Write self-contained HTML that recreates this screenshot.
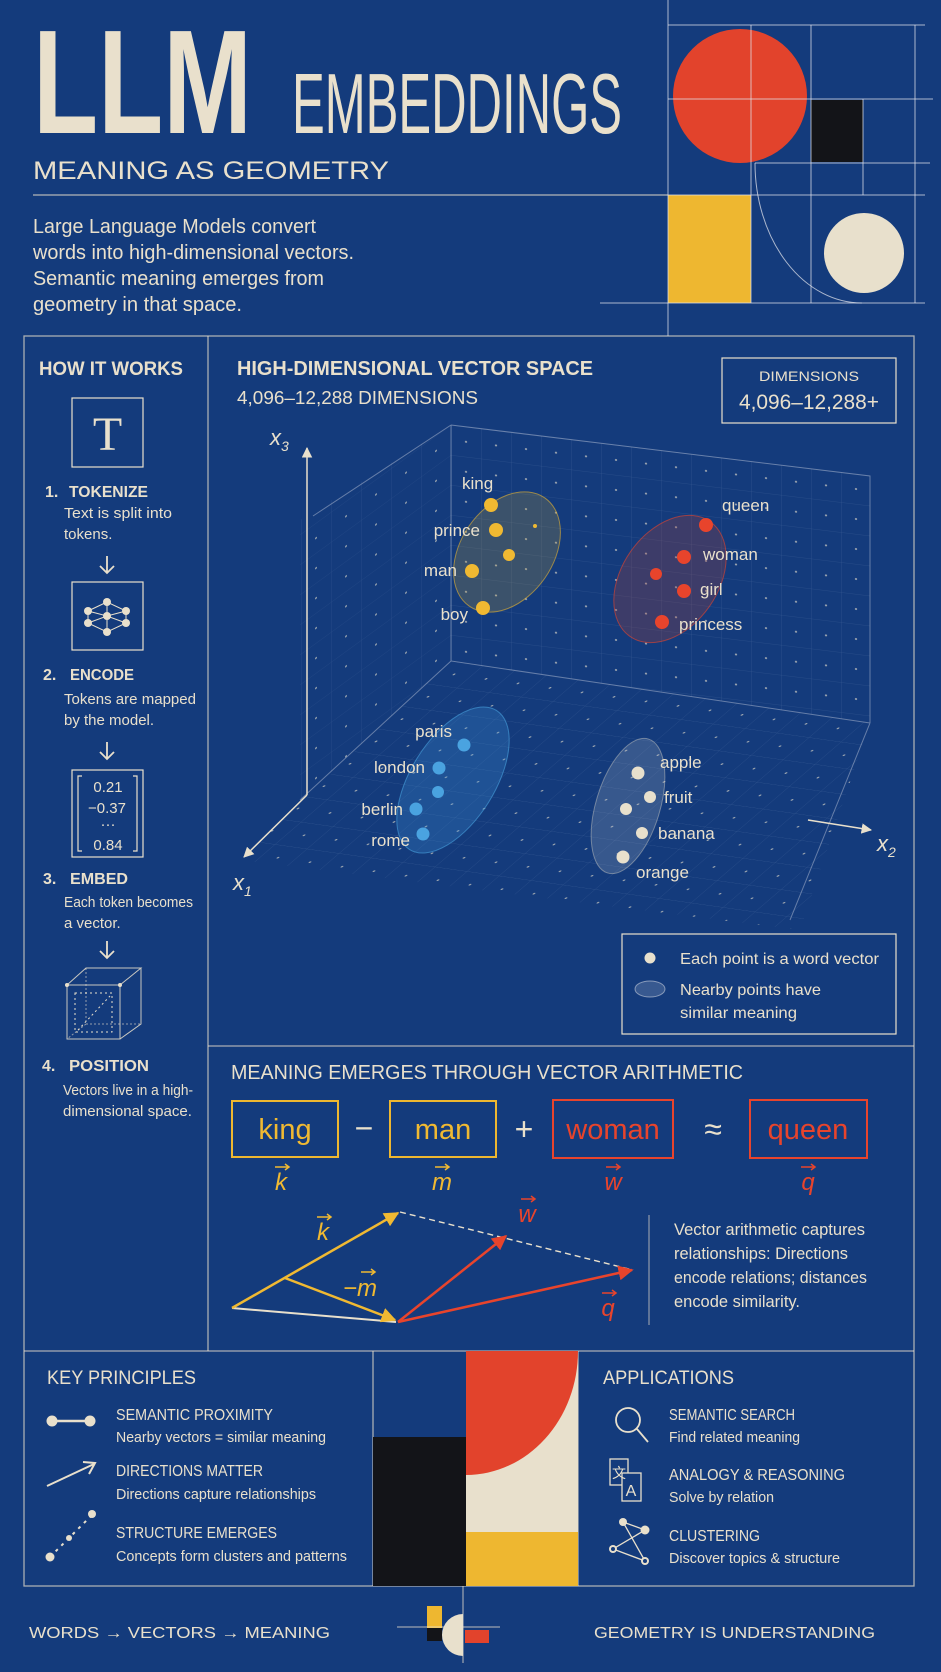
<!DOCTYPE html>
<html><head><meta charset="utf-8"><style>
html,body{margin:0;padding:0;background:#143b7c;}
svg{display:block;}
text{font-family:"Liberation Sans",sans-serif;fill:#e9e0cc;}
</style></head><body>
<svg width="941" height="1672" viewBox="0 0 941 1672" xmlns="http://www.w3.org/2000/svg">
<defs>
<pattern id="gw" width="30" height="30" patternUnits="userSpaceOnUse" patternTransform="translate(451,425) skewY(6.9)">
<path d="M0 0H30M0 0V30" stroke="#c9d6ee" stroke-width="0.6" fill="none" opacity="0.2"/>
<circle cx="15" cy="15" r="1" fill="#e9e0cc" opacity="0.75"/>
</pattern>
<pattern id="gl" width="30" height="30" patternUnits="userSpaceOnUse" patternTransform="translate(451,425) skewY(-36)">
<path d="M0 0H30M0 0V30" stroke="#c9d6ee" stroke-width="0.6" fill="none" opacity="0.15"/>
<circle cx="15" cy="15" r="1" fill="#e9e0cc" opacity="0.65"/>
</pattern>
<pattern id="gf" width="32" height="26" patternUnits="userSpaceOnUse" patternTransform="translate(451,661) skewY(8) skewX(-45)">
<path d="M0 0H32M0 0V26" stroke="#c9d6ee" stroke-width="0.6" fill="none" opacity="0.18"/>
<circle cx="16" cy="13" r="1" fill="#e9e0cc" opacity="0.65"/>
</pattern>
<marker id="ac" viewBox="0 0 10 10" refX="9" refY="5" markerWidth="7" markerHeight="7" orient="auto"><path d="M0 0L10 5L0 10z" fill="#e9e0cc"/></marker>
<marker id="ay" viewBox="0 0 10 10" refX="9" refY="5" markerWidth="6" markerHeight="6" orient="auto"><path d="M0 0L10 5L0 10z" fill="#f0b932"/></marker>
<marker id="ar" viewBox="0 0 10 10" refX="9" refY="5" markerWidth="6" markerHeight="6" orient="auto"><path d="M0 0L10 5L0 10z" fill="#e8442c"/></marker>
</defs>

<!-- HEADER -->
<text x="33" y="133" font-size="148" font-weight="bold" textLength="219" lengthAdjust="spacingAndGlyphs">LLM</text>
<text x="292" y="133" font-size="85" textLength="330" lengthAdjust="spacingAndGlyphs">EMBEDDINGS</text>
<text x="33" y="179" font-size="25" textLength="356" lengthAdjust="spacingAndGlyphs">MEANING AS GEOMETRY</text>
<line x1="33" y1="195" x2="668" y2="195" stroke="#e9e0cc" stroke-opacity="0.75" stroke-width="1.2"/>
<g font-size="20">
<text x="33" y="233" textLength="283" lengthAdjust="spacingAndGlyphs">Large Language Models convert</text>
<text x="33" y="259" textLength="321" lengthAdjust="spacingAndGlyphs">words into high-dimensional vectors.</text>
<text x="33" y="285" textLength="291" lengthAdjust="spacingAndGlyphs">Semantic meaning emerges from</text>
<text x="33" y="311" textLength="209" lengthAdjust="spacingAndGlyphs">geometry in that space.</text>
</g>

<!-- right art -->
<circle cx="740" cy="96" r="67" fill="#e2432c"/>
<rect x="811" y="100" width="52" height="62" fill="#131418"/>
<rect x="668" y="195" width="83" height="108" fill="#eeb730"/>
<circle cx="864" cy="253" r="40" fill="#e8e0cc"/>
<g stroke="#dfe2ea" stroke-opacity="0.75" stroke-width="1" fill="none">
<line x1="668" y1="0" x2="668" y2="336"/>
<line x1="668" y1="25" x2="925" y2="25"/>
<line x1="915" y1="25" x2="915" y2="303"/>
<line x1="751" y1="25" x2="751" y2="303"/>
<line x1="811" y1="25" x2="811" y2="303"/>
<line x1="863" y1="99" x2="863" y2="195"/>
<line x1="668" y1="99" x2="933" y2="99"/>
<line x1="755" y1="163" x2="930" y2="163"/>
<line x1="668" y1="195" x2="925" y2="195"/>
<line x1="600" y1="303" x2="925" y2="303"/>
<path d="M755 163 A107 140 0 0 0 862 303"/>
</g>

<!-- FRAME -->
<g stroke="#e9e0cc" stroke-opacity="0.7" stroke-width="1.3" fill="none">
<rect x="24" y="336" width="890" height="1250"/>
<line x1="208" y1="336" x2="208" y2="1351"/>
<line x1="208" y1="1046" x2="914" y2="1046"/>
<line x1="24" y1="1351" x2="914" y2="1351"/>
<line x1="373" y1="1351" x2="373" y2="1586"/>
<line x1="578" y1="1351" x2="578" y2="1586"/>
</g>

<!-- LEFT COLUMN -->
<text x="39" y="375" font-size="19" font-weight="bold" textLength="144" lengthAdjust="spacingAndGlyphs">HOW IT WORKS</text>
<rect x="72" y="398" width="71" height="69" fill="none" stroke="#e9e0cc" stroke-width="1.2"/>
<text x="107.5" y="450" font-size="48" text-anchor="middle" style="font-family:'Liberation Serif',serif">T</text>

<g font-weight="bold" font-size="16">
<text x="45" y="497">1.</text><text x="69" y="497" textLength="79" lengthAdjust="spacingAndGlyphs">TOKENIZE</text>
<text x="43" y="680">2.</text><text x="70" y="680" textLength="64" lengthAdjust="spacingAndGlyphs">ENCODE</text>
<text x="43" y="884">3.</text><text x="70" y="884" textLength="58" lengthAdjust="spacingAndGlyphs">EMBED</text>
<text x="42" y="1071">4.</text><text x="69" y="1071" textLength="80" lengthAdjust="spacingAndGlyphs">POSITION</text>
</g>
<g font-size="15">
<text x="64" y="518" textLength="108" lengthAdjust="spacingAndGlyphs">Text is split into</text>
<text x="64" y="539">tokens.</text>
<text x="64" y="704" textLength="132" lengthAdjust="spacingAndGlyphs">Tokens are mapped</text>
<text x="64" y="725">by the model.</text>
<text x="64" y="907" textLength="129" lengthAdjust="spacingAndGlyphs">Each token becomes</text>
<text x="64" y="928">a vector.</text>
<text x="63" y="1095" textLength="130" lengthAdjust="spacingAndGlyphs">Vectors live in a high-</text>
<text x="63" y="1116" textLength="129" lengthAdjust="spacingAndGlyphs">dimensional space.</text>
</g>
<g stroke="#e9e0cc" stroke-width="1.8" fill="none">
<path d="M107 556V573M100 566L107 573L114 566"/>
<path d="M107 742V759M100 752L107 759L114 752"/>
<path d="M107 941V958M100 951L107 958L114 951"/>
</g>
<rect x="72" y="582" width="71" height="68" fill="none" stroke="#e9e0cc" stroke-width="1.2"/>
<g stroke="#e9e0cc" stroke-width="1" fill="none">
<path d="M107 602L88 611L88 623L107 632L126 623L126 611Z M107 602V632 M88 611L107 616L126 611 M88 623L107 616L126 623"/>
</g>
<g fill="#e9e0cc">
<circle cx="107" cy="602" r="4"/><circle cx="88" cy="611" r="4"/><circle cx="126" cy="611" r="4"/>
<circle cx="107" cy="616" r="4"/><circle cx="88" cy="623" r="4"/><circle cx="126" cy="623" r="4"/><circle cx="107" cy="632" r="4"/>
</g>
<rect x="72" y="770" width="71" height="87" fill="none" stroke="#e9e0cc" stroke-width="1.2"/>
<path d="M82 776H78V851H82 M133 776H137V851H133" stroke="#e9e0cc" stroke-width="1.2" fill="none"/>
<g font-size="15" text-anchor="middle">
<text x="108" y="792">0.21</text><text x="107" y="813">−0.37</text><text x="108" y="829">···</text><text x="108" y="850">0.84</text>
</g>
<g stroke="#e9e0cc" stroke-width="1" fill="none">
<path d="M67 985H120V1039H67Z M67 985L86 968H141L120 985 M141 968V1024L120 1039" stroke-opacity="0.85"/>
<path d="M86 968V1024H141 M86 1024L67 1039" stroke-dasharray="2 2" stroke-opacity="0.6"/>
<path d="M75 993H112V1032H75Z M78 1030L110 996" stroke-dasharray="2 3"/>
</g>
<circle cx="67" cy="985" r="2" fill="#e9e0cc"/><circle cx="120" cy="985" r="2" fill="#e9e0cc"/>

<!-- VECTOR SPACE -->
<text x="237" y="375" font-size="20" font-weight="bold" textLength="356" lengthAdjust="spacingAndGlyphs">HIGH-DIMENSIONAL VECTOR SPACE</text>
<text x="237" y="404" font-size="18" textLength="241" lengthAdjust="spacingAndGlyphs">4,096–12,288 DIMENSIONS</text>
<rect x="722" y="358" width="174" height="65" fill="none" stroke="#e9e0cc" stroke-width="1.2"/>
<text x="809" y="381" font-size="14" text-anchor="middle" textLength="100" lengthAdjust="spacingAndGlyphs">DIMENSIONS</text>
<text x="809" y="409" font-size="21" text-anchor="middle" textLength="140" lengthAdjust="spacingAndGlyphs">4,096–12,288+</text>

<polygon points="451,425 870,476 870,723 451,661" fill="url(#gw)"/>
<polygon points="451,425 451,661 300,800 300,520" fill="url(#gl)"/>
<polygon points="451,661 870,723 800,930 240,860" fill="url(#gf)"/>
<g stroke="#dfe2ea" stroke-opacity="0.4" stroke-width="1" fill="none">
<path d="M451 425L870 476V723 M451 425V661L870 723 M451 425L313 516 M451 661L300 800 M870 723L790 920"/>
</g>
<g stroke="#e9e0cc" stroke-width="1.5" fill="none">
<line x1="307" y1="795" x2="307" y2="448" marker-end="url(#ac)"/>
<line x1="307" y1="795" x2="244" y2="857" marker-end="url(#ac)"/>
<line x1="808" y1="820" x2="871" y2="830" marker-end="url(#ac)"/>
</g>
<g font-size="22" font-style="italic">
<text x="270" y="445">x<tspan font-size="14" dy="6">3</tspan></text>
<text x="233" y="890">x<tspan font-size="14" dy="6">1</tspan></text>
<text x="877" y="851">x<tspan font-size="14" dy="6">2</tspan></text>
</g>

<!-- clusters -->
<ellipse cx="507" cy="552" rx="46" ry="66" transform="rotate(35 507 552)" fill="#c9a534" fill-opacity="0.22" stroke="#e9b530" stroke-opacity="0.6"/>
<ellipse cx="670" cy="579" rx="48" ry="70" transform="rotate(35 670 579)" fill="#a8403a" fill-opacity="0.28" stroke="#e8442c" stroke-opacity="0.6"/>
<ellipse cx="453" cy="780" rx="42" ry="82" transform="rotate(32 453 780)" fill="#3d8fd8" fill-opacity="0.28" stroke="#4aa3e0" stroke-opacity="0.6"/>
<ellipse cx="628" cy="806" rx="32" ry="70" transform="rotate(17 628 806)" fill="#b8c0cc" fill-opacity="0.22" stroke="#e9e0cc" stroke-opacity="0.4"/>
<g fill="#f0b932"><circle cx="491" cy="505" r="7"/><circle cx="496" cy="530" r="7"/><circle cx="509" cy="555" r="6"/><circle cx="472" cy="571" r="7"/><circle cx="483" cy="608" r="7"/><circle cx="535" cy="526" r="2"/></g>
<g fill="#e8442c"><circle cx="706" cy="525" r="7"/><circle cx="684" cy="557" r="7"/><circle cx="656" cy="574" r="6"/><circle cx="684" cy="591" r="7"/><circle cx="662" cy="622" r="7"/></g>
<g fill="#4aa3e0"><circle cx="464" cy="745" r="6.5"/><circle cx="439" cy="768" r="6.5"/><circle cx="438" cy="792" r="6"/><circle cx="416" cy="809" r="6.5"/><circle cx="423" cy="834" r="6.5"/></g>
<g fill="#e8e0cc"><circle cx="638" cy="773" r="6.5"/><circle cx="650" cy="797" r="6"/><circle cx="626" cy="809" r="6"/><circle cx="642" cy="833" r="6"/><circle cx="623" cy="857" r="6.5"/></g>
<g font-size="17">
<text x="462" y="489">king</text>
<text x="480" y="536" text-anchor="end">prince</text>
<text x="457" y="576" text-anchor="end">man</text>
<text x="468" y="620" text-anchor="end">boy</text>
<text x="722" y="511">queen</text>
<text x="703" y="560">woman</text>
<text x="700" y="595">girl</text>
<text x="679" y="630">princess</text>
<text x="452" y="737" text-anchor="end">paris</text>
<text x="425" y="773" text-anchor="end">london</text>
<text x="403" y="815" text-anchor="end">berlin</text>
<text x="410" y="846" text-anchor="end">rome</text>
<text x="660" y="768">apple</text>
<text x="664" y="803">fruit</text>
<text x="658" y="839">banana</text>
<text x="636" y="878">orange</text>
</g>
<rect x="622" y="934" width="274" height="100" fill="none" stroke="#e9e0cc" stroke-width="1.2"/>
<circle cx="650" cy="958" r="5.5" fill="#e8e0cc"/>
<ellipse cx="650" cy="989" rx="15" ry="8" fill="#6f86b0" fill-opacity="0.4" stroke="#c9d0dd" stroke-opacity="0.6"/>
<g font-size="16">
<text x="680" y="964" textLength="199" lengthAdjust="spacingAndGlyphs">Each point is a word vector</text>
<text x="680" y="995" textLength="141" lengthAdjust="spacingAndGlyphs">Nearby points have</text>
<text x="680" y="1018" textLength="117" lengthAdjust="spacingAndGlyphs">similar meaning</text>
</g>

<!-- ARITHMETIC -->
<text x="231" y="1079" font-size="20" textLength="512" lengthAdjust="spacingAndGlyphs">MEANING EMERGES THROUGH VECTOR ARITHMETIC</text>
<g fill="none" stroke-width="2">
<rect x="232" y="1101" width="106" height="56" stroke="#eeb730"/>
<rect x="390" y="1101" width="106" height="56" stroke="#eeb730"/>
<rect x="553" y="1100" width="120" height="58" stroke="#e8442c"/>
<rect x="750" y="1100" width="117" height="58" stroke="#e8442c"/>
</g>
<g font-size="29" text-anchor="middle">
<text x="285" y="1139" style="fill:#f0b932">king</text>
<text x="443" y="1139" style="fill:#f0b932">man</text>
<text x="613" y="1139" style="fill:#e8442c">woman</text>
<text x="808" y="1139" style="fill:#e8442c">queen</text>
<text x="364" y="1139" font-size="32">−</text>
<text x="524" y="1140" font-size="32">+</text>
<text x="713" y="1140" font-size="32">≈</text>
</g>
<g font-size="24" font-style="italic" text-anchor="middle">
<text x="281" y="1190" style="fill:#f0b932">k</text>
<text x="442" y="1190" style="fill:#f0b932">m</text>
<text x="613" y="1190" style="fill:#e8442c">w</text>
<text x="808" y="1190" style="fill:#e8442c">q</text>
<text x="323" y="1240" style="fill:#f0b932">k</text>
<text x="360" y="1296" style="fill:#f0b932">−m</text>
<text x="527" y="1222" style="fill:#e8442c">w</text>
<text x="608" y="1316" style="fill:#e8442c">q</text>
</g>
<g stroke-width="1.5" fill="none">
<path d="M275 1167H289M285 1164L289 1167L285 1170" stroke="#f0b932"/>
<path d="M435 1167H449M445 1164L449 1167L445 1170" stroke="#f0b932"/>
<path d="M606 1167H620M616 1164L620 1167L616 1170" stroke="#e8442c"/>
<path d="M801 1167H815M811 1164L815 1167L811 1170" stroke="#e8442c"/>
<path d="M317 1217H331M327 1214L331 1217L327 1220" stroke="#f0b932"/>
<path d="M361 1272H375M371 1269L375 1272L371 1275" stroke="#f0b932"/>
<path d="M521 1199H535M531 1196L535 1199L531 1202" stroke="#e8442c"/>
<path d="M602 1293H616M612 1290L616 1293L612 1296" stroke="#e8442c"/>
</g>
<line x1="400" y1="1212" x2="633" y2="1270" stroke="#e9e0cc" stroke-width="1.4" stroke-dasharray="6 4"/>
<line x1="232" y1="1308" x2="396" y2="1322" stroke="#e9e0cc" stroke-width="2"/>
<line x1="232" y1="1308" x2="398" y2="1213" stroke="#f0b932" stroke-width="2.5" marker-end="url(#ay)"/>
<line x1="285" y1="1278" x2="395" y2="1320" stroke="#f0b932" stroke-width="2.5" marker-end="url(#ay)"/>
<line x1="398" y1="1322" x2="506" y2="1236" stroke="#e8442c" stroke-width="2.5" marker-end="url(#ar)"/>
<line x1="398" y1="1322" x2="632" y2="1270" stroke="#e8442c" stroke-width="2.5" marker-end="url(#ar)"/>
<line x1="649" y1="1215" x2="649" y2="1325" stroke="#e9e0cc" stroke-opacity="0.7" stroke-width="1"/>
<g font-size="17">
<text x="674" y="1235" textLength="191" lengthAdjust="spacingAndGlyphs">Vector arithmetic captures</text>
<text x="674" y="1259" textLength="174" lengthAdjust="spacingAndGlyphs">relationships: Directions</text>
<text x="674" y="1283" textLength="193" lengthAdjust="spacingAndGlyphs">encode relations; distances</text>
<text x="674" y="1307" textLength="126" lengthAdjust="spacingAndGlyphs">encode similarity.</text>
</g>

<!-- BOTTOM SECTION -->
<text x="47" y="1384" font-size="19" textLength="149" lengthAdjust="spacingAndGlyphs">KEY PRINCIPLES</text>
<g font-size="16">
<text x="116" y="1420" textLength="157" lengthAdjust="spacingAndGlyphs">SEMANTIC PROXIMITY</text>
<text x="116" y="1442" font-size="15" textLength="210" lengthAdjust="spacingAndGlyphs">Nearby vectors = similar meaning</text>
<text x="116" y="1476" textLength="147" lengthAdjust="spacingAndGlyphs">DIRECTIONS MATTER</text>
<text x="116" y="1499" font-size="15" textLength="200" lengthAdjust="spacingAndGlyphs">Directions capture relationships</text>
<text x="116" y="1538" textLength="161" lengthAdjust="spacingAndGlyphs">STRUCTURE EMERGES</text>
<text x="116" y="1561" font-size="15" textLength="231" lengthAdjust="spacingAndGlyphs">Concepts form clusters and patterns</text>
</g>
<line x1="52" y1="1421" x2="90" y2="1421" stroke="#e9e0cc" stroke-width="2.5"/>
<circle cx="52" cy="1421" r="5.5" fill="#e9e0cc"/><circle cx="90" cy="1421" r="5.5" fill="#e9e0cc"/>
<line x1="47" y1="1486" x2="94" y2="1464" stroke="#e9e0cc" stroke-width="2"/>
<path d="M83 1462L95 1463L89 1474" stroke="#e9e0cc" stroke-width="2" fill="none"/>
<line x1="50" y1="1557" x2="92" y2="1515" stroke="#e9e0cc" stroke-width="2" stroke-dasharray="3 5"/>
<circle cx="50" cy="1557" r="4.5" fill="#e9e0cc"/><circle cx="92" cy="1514" r="4" fill="#e9e0cc"/><circle cx="69" cy="1538" r="3" fill="#e9e0cc"/>

<!-- middle art -->
<rect x="373" y="1437" width="93" height="149" fill="#131418"/>
<rect x="466" y="1351" width="112" height="181" fill="#e8e0cc"/>
<rect x="466" y="1532" width="112" height="54" fill="#eeb730"/>
<path d="M466 1351H578A112 124 0 0 1 466 1475Z" fill="#e2432c"/>

<text x="603" y="1384" font-size="19" textLength="131" lengthAdjust="spacingAndGlyphs">APPLICATIONS</text>
<g font-size="16">
<text x="669" y="1420" textLength="126" lengthAdjust="spacingAndGlyphs">SEMANTIC SEARCH</text>
<text x="669" y="1442" font-size="15" textLength="131" lengthAdjust="spacingAndGlyphs">Find related meaning</text>
<text x="669" y="1480" textLength="176" lengthAdjust="spacingAndGlyphs">ANALOGY &amp; REASONING</text>
<text x="669" y="1502" font-size="15" textLength="105" lengthAdjust="spacingAndGlyphs">Solve by relation</text>
<text x="669" y="1541" textLength="91" lengthAdjust="spacingAndGlyphs">CLUSTERING</text>
<text x="669" y="1563" font-size="15" textLength="171" lengthAdjust="spacingAndGlyphs">Discover topics &amp; structure</text>
</g>
<g stroke="#e9e0cc" stroke-width="1.8" fill="none">
<circle cx="628" cy="1420" r="12"/>
<line x1="637" y1="1429" x2="648" y2="1442"/>
<rect x="610" y="1459" width="18" height="26" fill="#143b7c" stroke-width="1.3"/>
<rect x="622" y="1473" width="19" height="28" fill="#143b7c" stroke-width="1.3"/>
<path d="M623 1522L645 1530L613 1549L645 1561Z M623 1522L645 1561 M645 1530L613 1549" stroke-width="1.3"/>
</g>
<text x="619" y="1478" font-size="14" text-anchor="middle" style="font-family:'Liberation Sans','Noto Sans CJK SC',sans-serif">文</text>
<text x="631" y="1496" font-size="16" text-anchor="middle">A</text>
<g fill="#e9e0cc"><circle cx="623" cy="1522" r="4"/><circle cx="645" cy="1530" r="4.5"/><circle cx="613" cy="1549" r="4"/><circle cx="645" cy="1561" r="4"/></g>
<g fill="#143b7c"><circle cx="613" cy="1549" r="2"/><circle cx="645" cy="1561" r="2"/></g>

<!-- FOOTER -->
<text x="29" y="1638" font-size="16" textLength="301" lengthAdjust="spacingAndGlyphs">WORDS  →  VECTORS  →  MEANING</text>
<text x="594" y="1638" font-size="16" textLength="281" lengthAdjust="spacingAndGlyphs">GEOMETRY IS UNDERSTANDING</text>
<rect x="427" y="1606" width="15" height="22" fill="#eeb730"/>
<rect x="427" y="1628" width="15" height="13" fill="#131418"/>
<path d="M463 1614A20 20 0 0 0 463 1656Z" fill="#e8e0cc"/>
<rect x="465" y="1630" width="24" height="13" fill="#e2432c"/>
<line x1="463" y1="1586" x2="463" y2="1663" stroke="#e9e0cc" stroke-opacity="0.8" stroke-width="1"/>
<line x1="397" y1="1627" x2="500" y2="1627" stroke="#e9e0cc" stroke-opacity="0.8" stroke-width="1"/>
</svg>
</body></html>
